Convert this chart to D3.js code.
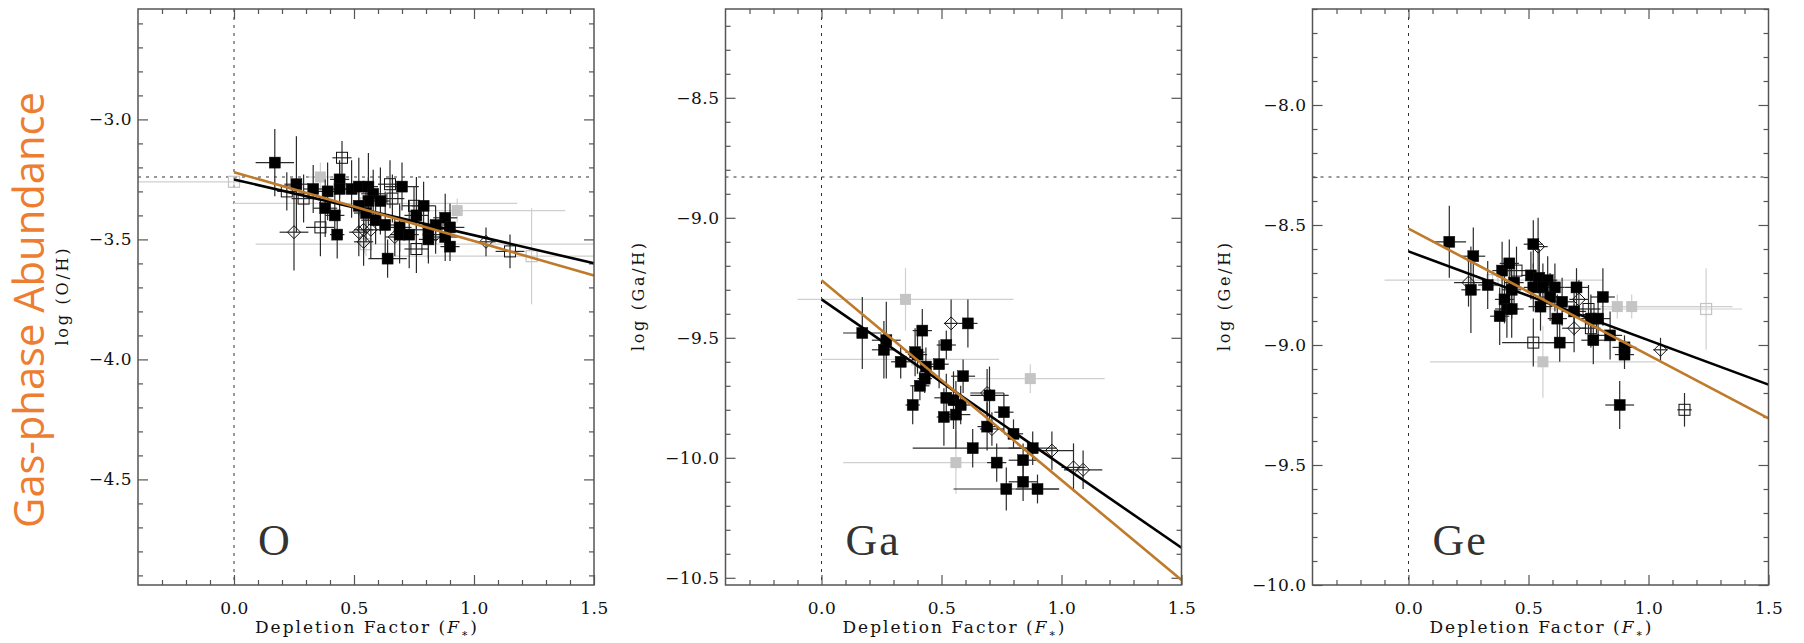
<!DOCTYPE html>
<html lang="en">
<head>
<meta charset="UTF-8">
<title>Gas-phase abundance vs depletion factor</title>
<script src="https://d3js.org/d3.v7.min.js"></script>
<style>
  body { margin: 0; background: #fff; }
  .frame { fill: none; stroke: #555; stroke-width: 1.5px; }
  .axis path { display: none; }
  .axis line { stroke: #555; stroke-width: 1.2px; }
  .axis text { font-family: "DejaVu Serif", serif; font-size: 17px; fill: #111; letter-spacing: 0.5px; }
  .ref { stroke: #333; stroke-width: 1px; stroke-dasharray: 3,5; fill: none; }
  .ebar { stroke: #2a2a2a; stroke-width: 1.2px; }
  .ebar.gray { stroke: #cfcfcf; }
  .xlabel { font-family: "DejaVu Serif", serif; font-size: 17px; fill: #111; }
  .ylabel { font-family: "DejaVu Serif", serif; font-size: 16px; fill: #111; }
  .elem { font-family: "Liberation Serif", serif; fill: #333; }
</style>
</head>
<body>
<svg id="chart" width="1804" height="643"></svg>
<script>
// ---- data: [F*, log X/H, xerr, yerr]  (gray: [F*, log X/H, xerr-, xerr+, yerr])
const elements = ["O", "Ga", "Ge"];
const solar = [-3.24, -8.83, -8.30];
const fitBlack = [[-3.25, -0.233], [-9.34, -0.69], [-8.61, -0.37]];   // [intercept, slope]
const fitOrange = [[-3.22, -0.287], [-9.26, -0.833], [-8.515, -0.527]];
const xTickLabels = [0.0, 0.5, 1.0, 1.5];

const oFilled = [
  [0.17,-3.18,0.08,0.14],[0.26,-3.27,0.05,0.2],[0.33,-3.29,0.04,0.1],[0.39,-3.30,0.05,0.12],
  [0.44,-3.25,0.04,0.08],[0.44,-3.29,0.05,0.1],[0.38,-3.37,0.05,0.12],[0.42,-3.40,0.04,0.1],
  [0.43,-3.48,0.03,0.1],[0.49,-3.29,0.06,0.12],[0.52,-3.28,0.05,0.12],[0.56,-3.28,0.04,0.14],
  [0.58,-3.31,0.05,0.1],[0.56,-3.34,0.04,0.1],[0.61,-3.34,0.04,0.14],[0.52,-3.36,0.05,0.1],
  [0.55,-3.39,0.05,0.12],[0.59,-3.42,0.06,0.1],[0.63,-3.44,0.05,0.14],[0.70,-3.28,0.07,0.1],
  [0.64,-3.58,0.08,0.08],[0.69,-3.45,0.05,0.1],[0.69,-3.48,0.04,0.12],[0.73,-3.48,0.04,0.14],
  [0.76,-3.40,0.05,0.16],[0.79,-3.36,0.05,0.1],[0.81,-3.46,0.06,0.12],[0.81,-3.50,0.04,0.1],
  [0.88,-3.41,0.05,0.1],[0.90,-3.45,0.06,0.1],[0.88,-3.49,0.05,0.1],[0.90,-3.53,0.04,0.06],
  [0.84,-3.44,0.04,0.08]
];
const oOpen = [
  [0.45,-3.16,0.04,0.07],[0.22,-3.30,0.04,0.08],[0.36,-3.45,0.06,0.12],[0.65,-3.27,0.05,0.1],
  [0.75,-3.36,0.05,0.08],[0.76,-3.54,0.05,0.1],[1.15,-3.55,0.06,0.07],[0.29,-3.33,0.05,0.1],
  [0.66,-3.33,0.05,0.1]
];
const oDiamond = [
  [0.25,-3.47,0.06,0.16],[0.52,-3.47,0.04,0.1],[0.54,-3.46,0.04,0.1],[0.54,-3.51,0.04,0.1],
  [0.57,-3.46,0.04,0.12],[0.67,-3.49,0.04,0.08],[1.05,-3.51,0.04,0.06],[0.84,-3.48,0.04,0.08]
];
const oGrayFilled = [[0.36,-3.24,0.05,0.05,0.06],[0.93,-3.38,0.12,0.45,0.05]];
const oGrayOpen = [[0.0,-3.26,0.45,0.05,0.02],[1.24,-3.57,0.57,0.3,0.2],[0.55,-3.35,0.55,0.63,0.05],[0.55,-3.52,0.46,0.98,0.05]];

const gaFilled = [
  [0.17,-9.48,0.08,0.15],[0.27,-9.51,0.06,0.16],[0.26,-9.55,0.05,0.12],[0.33,-9.60,0.04,0.07],
  [0.39,-9.56,0.04,0.1],[0.40,-9.57,0.04,0.08],[0.42,-9.47,0.04,0.09],[0.435,-9.62,0.04,0.08],
  [0.43,-9.67,0.03,0.06],[0.41,-9.70,0.04,0.06],[0.38,-9.78,0.03,0.08],[0.52,-9.53,0.04,0.06],
  [0.49,-9.61,0.04,0.1],[0.61,-9.44,0.04,0.1],[0.59,-9.66,0.05,0.07],[0.52,-9.75,0.05,0.1],
  [0.55,-9.76,0.04,0.12],[0.58,-9.78,0.04,0.08],[0.56,-9.82,0.06,0.14],[0.51,-9.83,0.03,0.12],
  [0.70,-9.74,0.08,0.12],[0.76,-9.81,0.04,0.08],[0.69,-9.87,0.04,0.1],[0.80,-9.90,0.04,0.06],
  [0.63,-9.96,0.25,0.08],[0.88,-9.96,0.1,0.07],[0.73,-10.02,0.04,0.08],[0.84,-10.01,0.06,0.07],
  [0.84,-10.10,0.06,0.08],[0.77,-10.13,0.22,0.09],[0.90,-10.13,0.09,0.06]
];
const gaOpen = [];
const gaDiamond = [
  [0.54,-9.44,0.03,0.1],[0.69,-9.73,0.07,0.1],[0.71,-9.88,0.05,0.07],
  [0.96,-9.97,0.09,0.08],[1.05,-10.04,0.05,0.1],[1.09,-10.05,0.08,0.08]
];
const gaGrayFilled = [[0.35,-9.34,0.45,0.45,0.13],[0.87,-9.67,0.29,0.31,0.06],[0.56,-10.02,0.47,0.21,0.13]];
const gaGrayOpen = [[0.40,-9.59,0.40,0.34,0.04]];

const geFilled = [
  [0.17,-8.57,0.07,0.15],[0.27,-8.63,0.05,0.12],[0.26,-8.77,0.04,0.18],[0.33,-8.75,0.04,0.1],
  [0.39,-8.69,0.04,0.12],[0.42,-8.66,0.04,0.1],[0.44,-8.74,0.04,0.1],[0.43,-8.77,0.04,0.12],
  [0.40,-8.81,0.04,0.1],[0.41,-8.85,0.05,0.12],[0.43,-8.85,0.05,0.12],[0.38,-8.88,0.04,0.12],
  [0.52,-8.58,0.04,0.1],[0.51,-8.71,0.04,0.1],[0.545,-8.72,0.04,0.12],[0.58,-8.73,0.04,0.1],
  [0.52,-8.76,0.04,0.1],[0.56,-8.76,0.04,0.1],[0.61,-8.76,0.04,0.1],[0.55,-8.84,0.05,0.1],
  [0.59,-8.80,0.05,0.1],[0.64,-8.82,0.05,0.1],[0.70,-8.76,0.05,0.08],[0.69,-8.86,0.05,0.1],
  [0.62,-8.89,0.04,0.1],[0.63,-8.99,0.06,0.08],[0.77,-8.98,0.05,0.1],[0.76,-8.89,0.05,0.1],
  [0.79,-8.89,0.05,0.1],[0.81,-8.80,0.05,0.12],[0.84,-8.96,0.05,0.1],[0.90,-9.01,0.05,0.05],
  [0.90,-9.04,0.04,0.06],[0.88,-9.25,0.06,0.1]
];
const geOpen = [[0.52,-8.99,0.13,0.1],[0.45,-8.69,0.04,0.1],[0.75,-8.85,0.05,0.1],[0.76,-8.93,0.04,0.08],[1.15,-9.27,0.03,0.07]];
const geDiamond = [[0.25,-8.74,0.06,0.1],[0.54,-8.59,0.04,0.12],[0.71,-8.81,0.04,0.08],[0.69,-8.93,0.05,0.1],[1.05,-9.02,0.03,0.05]];
const geGrayFilled = [[0.56,-9.07,0.47,0.47,0.15],[0.87,-8.84,0.07,0.39,0.05],[0.93,-8.84,0.1,0.42,0.05]];
const geGrayOpen = [[1.24,-8.85,0.7,0.15,0.17],[0.35,-8.73,0.45,0.46,0.04]];

const filledSets = [oFilled, gaFilled, geFilled];
const openSets = [oOpen, gaOpen, geOpen];
const diamondSets = [oDiamond, gaDiamond, geDiamond];
const grayFilledSets = [oGrayFilled, gaGrayFilled, geGrayFilled];
const grayOpenSets = [oGrayOpen, gaGrayOpen, geGrayOpen];

// ---- layout
const svg = d3.select("#chart");
const W = 456, H = 576, TOP = 9;
const panelLeft = [138, 725.5, 1312.5];
const yTitleX = [-70, -82, -83];   // baseline of rotated y title, relative to frame
const SQ = 11, DI = 6.5;           // marker sizes
const fmt = d3.format(".1f");

function ticksIn(lo, hi, step) {
  const out = [];
  for (let k = Math.ceil(lo / step - 1e-6); k <= Math.floor(hi / step + 1e-6); k++) out.push(+(k * step).toFixed(2));
  return out;
}

elements.forEach((el, i) => {
  const g = svg.append("g").attr("transform", `translate(${panelLeft[i]},${TOP})`);
  const x = d3.scaleLinear().domain([-0.4, 1.5]).range([0, W]);
  const y = d3.scaleLinear().domain([solar[i] - 1.7, solar[i] + 0.7]).range([H, 0]);

  const xMajor = [0, 0.5, 1.0];
  const xMinor = ticksIn(-0.4, 1.5, 0.1).filter(d => d > -0.4 && d < 1.5 && !xMajor.includes(d));
  const yMajor = ticksIn(y.domain()[0], y.domain()[1], 0.5);
  const yMinor = ticksIn(y.domain()[0], y.domain()[1], 0.1).filter(d => !yMajor.some(m => Math.abs(m - d) < 1e-6));

  // reference lines
  g.append("line").attr("class", "ref").attr("x1", x(0)).attr("x2", x(0)).attr("y1", 0).attr("y2", H);
  g.append("line").attr("class", "ref").attr("x1", 0).attr("x2", W).attr("y1", y(solar[i])).attr("y2", y(solar[i]));

  // axes (ticks inward)
  g.append("g").attr("class", "axis").attr("transform", `translate(0,${H})`)
    .call(d3.axisBottom(x).tickValues(xTickLabels).tickSize(-10).tickPadding(17).tickFormat(fmt));
  g.append("g").attr("class", "axis").attr("transform", `translate(0,${H})`)
    .call(d3.axisBottom(x).tickValues(xMinor).tickSize(-5).tickFormat(""));
  g.append("g").attr("class", "axis").call(d3.axisTop(x).tickValues(xMajor).tickSize(-10).tickFormat(""));
  g.append("g").attr("class", "axis").call(d3.axisTop(x).tickValues(xMinor).tickSize(-5).tickFormat(""));
  g.append("g").attr("class", "axis")
    .call(d3.axisLeft(y).tickValues(yMajor).tickSize(-10).tickPadding(6).tickFormat(fmt));
  g.append("g").attr("class", "axis").call(d3.axisLeft(y).tickValues(yMinor).tickSize(-5).tickFormat(""));
  g.append("g").attr("class", "axis").attr("transform", `translate(${W},0)`)
    .call(d3.axisRight(y).tickValues(yMajor).tickSize(-10).tickFormat(""));
  g.append("g").attr("class", "axis").attr("transform", `translate(${W},0)`)
    .call(d3.axisRight(y).tickValues(yMinor).tickSize(-5).tickFormat(""));

  // gray points
  const grayPts = grayFilledSets[i].map(d => ({d, t: "gf"})).concat(grayOpenSets[i].map(d => ({d, t: "go"})));
  const gray = g.append("g");
  grayPts.forEach(p => {
    const [f, v, exl, exh, ey] = p.d;
    gray.append("line").attr("class", "ebar gray").attr("x1", x(Math.max(-0.4, f - exl))).attr("x2", x(Math.min(1.5, f + exh))).attr("y1", y(v)).attr("y2", y(v));
    gray.append("line").attr("class", "ebar gray").attr("x1", x(f)).attr("x2", x(f)).attr("y1", y(v - ey)).attr("y2", y(v + ey));
  });
  grayPts.forEach(p => {
    const [f, v] = p.d;
    gray.append("rect").attr("x", x(f) - SQ / 2).attr("y", y(v) - SQ / 2).attr("width", SQ).attr("height", SQ)
      .attr("fill", p.t === "gf" ? "#c4c4c4" : "none").attr("stroke", p.t === "gf" ? "none" : "#c4c4c4").attr("stroke-width", 1.2);
  });

  // black points
  const blackPts = openSets[i].map(d => ({d, t: "o"}))
    .concat(diamondSets[i].map(d => ({d, t: "d"})))
    .concat(filledSets[i].map(d => ({d, t: "f"})));
  const blk = g.append("g");
  blackPts.forEach(p => {
    const [f, v, ex, ey] = p.d;
    blk.append("line").attr("class", "ebar").attr("x1", x(f - ex)).attr("x2", x(f + ex)).attr("y1", y(v)).attr("y2", y(v));
    blk.append("line").attr("class", "ebar").attr("x1", x(f)).attr("x2", x(f)).attr("y1", y(v - ey)).attr("y2", y(v + ey));
  });
  blackPts.forEach(p => {
    const [f, v] = p.d;
    const cx = x(f), cy = y(v);
    if (p.t === "d") {
      blk.append("path").attr("d", `M${cx},${cy - DI}L${cx + DI},${cy}L${cx},${cy + DI}L${cx - DI},${cy}Z`)
        .attr("fill", "none").attr("stroke", "#111").attr("stroke-width", 1);
    } else {
      blk.append("rect").attr("x", cx - SQ / 2).attr("y", cy - SQ / 2).attr("width", SQ).attr("height", SQ)
        .attr("fill", p.t === "f" ? "#000" : "none").attr("stroke", "#111").attr("stroke-width", p.t === "f" ? 0.5 : 1);
    }
  });

  // fit lines
  const fitLine = d3.line().x(d => x(d[0])).y(d => y(d[1]));
  [[fitBlack[i], "#000"], [fitOrange[i], "#bf7a2a"]].forEach(([c, col]) => {
    g.append("path").attr("d", fitLine([0, 1.5].map(f => [f, c[0] + c[1] * f])))
      .attr("fill", "none").attr("stroke", col).attr("stroke-width", 2.6);
  });

  // frame
  g.append("rect").attr("class", "frame").attr("width", W).attr("height", H);

  // element label
  g.append("text").attr("class", "elem").attr("x", x(0.1)).attr("y", H - 30)
    .attr("font-size", 44).style("letter-spacing", "2px").text(el);

  // x title, stretched to the wide spacing of the original
  const xt = g.append("text").attr("class", "xlabel").attr("x", W / 2).attr("y", H + 48)
    .attr("text-anchor", "middle").attr("textLength", 222).attr("lengthAdjust", "spacing");
  xt.append("tspan").text("Depletion Factor (");
  xt.append("tspan").attr("font-style", "italic").text("F");
  xt.append("tspan").attr("font-size", 11).attr("dy", 4).text("∗");
  xt.append("tspan").attr("dy", -4).text(")");

  // y title
  const label = `log (${el}/H)`;
  g.append("text").attr("class", "ylabel")
    .attr("transform", `translate(${yTitleX[i]},${H / 2}) rotate(-90)`)
    .attr("text-anchor", "middle").attr("textLength", 10.8 * label.length).attr("lengthAdjust", "spacing")
    .text(label);
});

// orange overlay title
const title = svg.append("text").attr("transform", "translate(44,310) rotate(-90)")
  .attr("text-anchor", "middle").attr("font-family", "'Open Sans', 'Noto Sans', sans-serif")
  .attr("font-size", 40).attr("fill", "#ED7D31").text("Gas-phase Abundance");
const len = title.node().getComputedTextLength();
title.attr("font-size", 40 * 436 / len);
</script>
</body>
</html>
